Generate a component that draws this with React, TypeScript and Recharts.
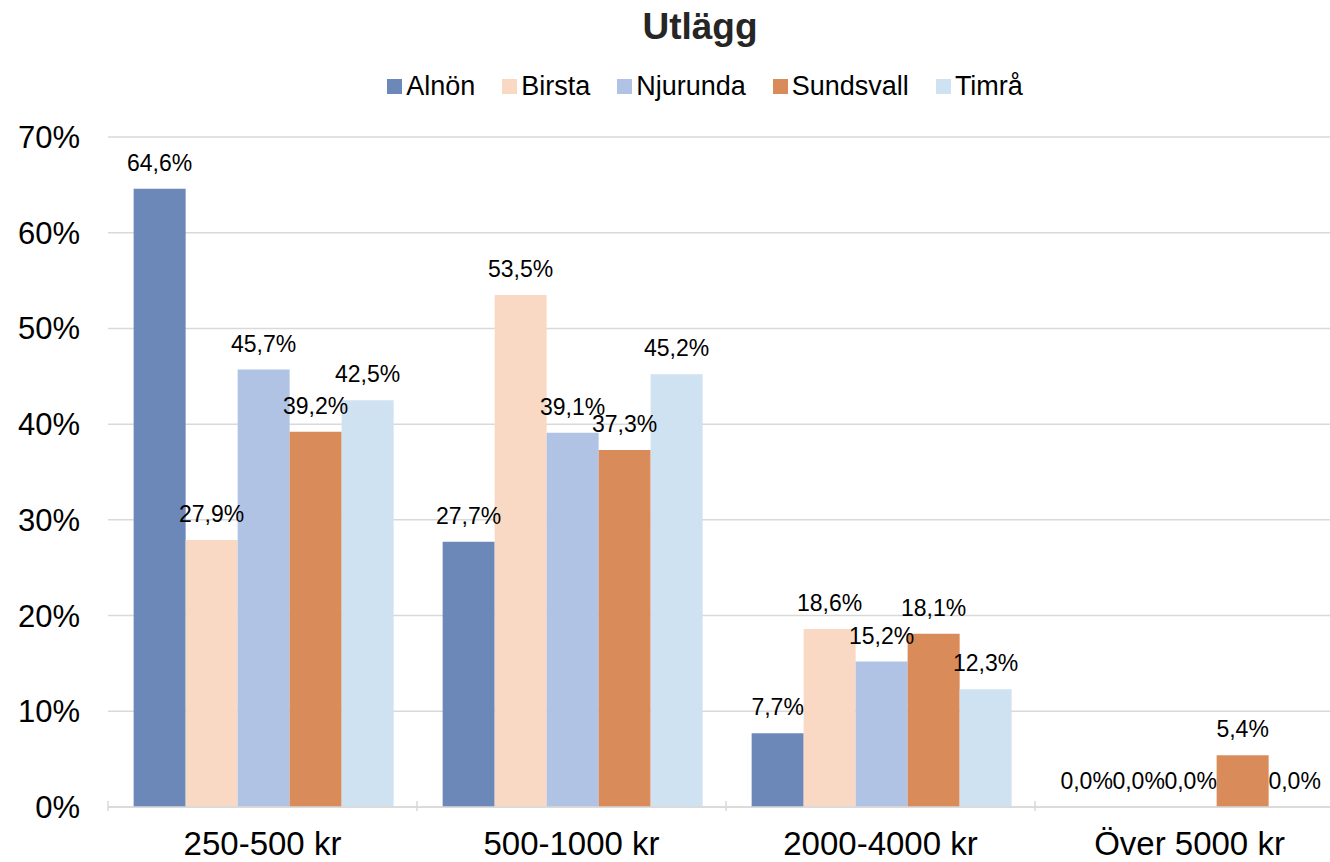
import { BarChart, Bar, CartesianGrid, XAxis, YAxis } from 'recharts';

const categories = ['250-500 kr', '500-1000 kr', '2000-4000 kr', 'Över 5000 kr'];
const seriesNames = ['Alnön', 'Birsta', 'Njurunda', 'Sundsvall', 'Timrå'];
const alnon = [64.6, 27.7, 7.7, 0];
const birsta = [27.9, 53.5, 18.6, 0];
const njurunda = [45.7, 39.1, 15.2, 0];
const sundsvall = [39.2, 37.3, 18.1, 5.4];
const timra = [42.5, 45.2, 12.3, 0];
const yTicks = [0, 10, 20, 30, 40, 50, 60, 70];

const palette = ['#6b88b8', '#f9d9c3', '#b0c3e5', '#d98b59', '#cfe2f2'];
const seriesValues = [alnon, birsta, njurunda, sundsvall, timra];

const data = categories.map((name, i) => {
  const row: Record<string, string | number> = { name };
  seriesNames.forEach((s, k) => {
    row[s] = seriesValues[k][i];
  });
  return row;
});

const CHART_W = 1350;
const MARGIN_L = 108;
const MARGIN_R = 6;
const BAND = (CHART_W - MARGIN_L - MARGIN_R) / categories.length;
const font = '"Liberation Sans", Arial, sans-serif';

const fmt = (v: number) => `${v.toFixed(1).replace('.', ',')}%`;

const CategoryTick = (props: any) => {
  const { x, y, payload, index } = props;
  const left = x - BAND / 2;
  return (
    <g>
      <line x1={left} x2={left} y1={y - 8} y2={y + 2} stroke="#d9d9d9" strokeWidth={1.5} />
      {index === categories.length - 1 && (
        <line x1={left + BAND} x2={left + BAND} y1={y - 8} y2={y + 2} stroke="#d9d9d9" strokeWidth={1.5} />
      )}
      <text x={x} y={y + 46} textAnchor="middle" fontSize={33} fill="#000" fontFamily={font}>
        {payload.value}
      </text>
    </g>
  );
};

const ValueLabel = (props: any) => {
  const { x, y, width, value } = props;
  if (value == null) return null;
  return (
    <text x={Number(x) + Number(width) / 2} y={Number(y) - 18} textAnchor="middle" fontSize={23} fill="#000" fontFamily={font}>
      {fmt(Number(value))}
    </text>
  );
};

const App = () => {
  return (
    <div style={{ position: 'absolute', left: 0, top: 0, width: 1330, height: 862, overflow: 'hidden', background: '#fff', fontFamily: font }}>
      <div style={{ position: 'absolute', left: 0, width: 1400, top: 6, textAlign: 'center', fontSize: 37, fontWeight: 'bold', color: '#262626' }}>
        Utlägg
      </div>
      <div style={{ position: 'absolute', left: 0, width: 1410, top: 71, display: 'flex', justifyContent: 'center', gap: 27, fontSize: 27, color: '#000' }}>
        {seriesNames.map((s, i) => (
          <div key={s} style={{ display: 'flex', alignItems: 'center' }}>
            <span style={{ display: 'inline-block', width: 15, height: 15, background: palette[i], marginRight: 4 }} />
            <span>{s}</span>
          </div>
        ))}
      </div>
      <div style={{ position: 'absolute', left: 0, top: 0 }}>
        <BarChart
          width={CHART_W}
          height={862}
          data={data}
          margin={{ top: 137, right: MARGIN_R, bottom: 0, left: 0 }}
          barCategoryGap="8.3%"
          barGap={0}
        >
          <CartesianGrid vertical={false} stroke="#d9d9d9" strokeWidth={1.5} />
          <XAxis
            dataKey="name"
            height={55}
            axisLine={{ stroke: '#d9d9d9', strokeWidth: 1.5 }}
            tickLine={false}
            tickSize={0}
            tick={<CategoryTick />}
            interval={0}
          />
          <YAxis
            width={MARGIN_L}
            domain={[0, 70]}
            ticks={yTicks}
            interval={0}
            axisLine={false}
            tickLine={false}
            tickSize={0}
            tickMargin={28}
            tickFormatter={(v: number) => `${v}%`}
            tick={{ fontSize: 31, fill: '#000', fontFamily: font }}
          />
          {seriesNames.map((s, i) => (
            <Bar
              key={s}
              dataKey={s}
              fill={palette[i]}
              isAnimationActive={false}
              minPointSize={(v: any) => (Number(v) === 0 ? 0.01 : 0)}
              label={<ValueLabel />}
            />
          ))}
        </BarChart>
      </div>
    </div>
  );
};

export default App;
